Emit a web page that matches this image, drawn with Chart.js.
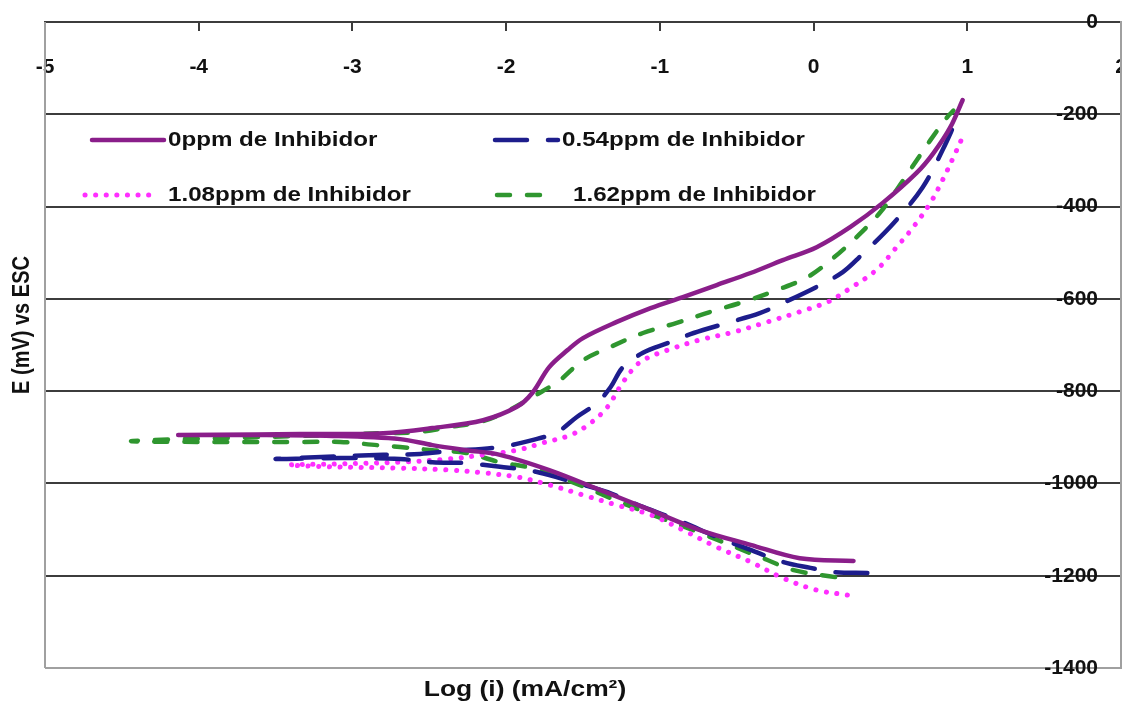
<!DOCTYPE html>
<html>
<head>
<meta charset="utf-8">
<script src="https://cdn.jsdelivr.net/npm/chart.js@4.4.1/dist/chart.umd.min.js"></script>
<style>
  html, body { margin: 0; padding: 0; background: #ffffff; }
  #wrap { width: 1122px; height: 702px; }
</style>
</head>
<body>
<div id="wrap"><canvas id="c" width="1122" height="702"></canvas></div>
<script>
// Tafel polarisation curves: log current density vs potential (mV vs ESC)
const xTickValues = [-5, -4, -3, -2, -1, 0, 1, 2];
const yTickValues = [0, -200, -400, -600, -800, -1000, -1200, -1400];

const xTitle = 'Log (i) (mA/cm\u00B2)';
const yTitle = 'E (mV) vs ESC';

const seriesNames = [
  '0ppm de Inhibidor',
  '0.54ppm de Inhibidor',
  '1.08ppm de Inhibidor',
  '1.62ppm de Inhibidor'
];

// 0 ppm: cathodic branch (right to left), then anodic branch (left to right)
const logI_0ppm = [0.26, -0.09, -0.41, -0.74, -1.06, -1.39, -1.72, -2.04, -2.26, -2.48,
  -2.69, -3.13, -3.67, -4.13, -3.34, -2.80, -2.48, -2.15, -1.93, -1.83,
  -1.72, -1.60, -1.50, -1.28, -1.06, -0.85, -0.63, -0.41, -0.20, 0.02,
  0.24, 0.45, 0.67, 0.78, 0.89, 0.97];
const E_0ppm = [-1168, -1162, -1133, -1101, -1058, -1014, -971, -938, -928, -917,
  -904, -897, -895, -895, -893, -891, -880, -863, -834, -804,
  -748, -711, -685, -650, -620, -596, -570, -544, -516, -488,
  -444, -392, -327, -284, -228, -169];

// 0.54 ppm
const logI_054ppm = [0.35, 0.13, -0.02, -0.20, -0.41, -0.63, -0.85, -1.11, -1.34, -1.50,
  -1.72, -1.86, -2.04, -2.26, -2.48, -2.69, -3.08, -3.50,
  -3.08, -2.80, -2.56, -2.37, -2.04, -1.83, -1.67, -1.54, -1.41, -1.32,
  -1.24, -1.11, -0.95, -0.78, -0.56, -0.35, -0.20, 0.02, 0.19, 0.30,
  0.52, 0.71, 0.84, 0.93, 0.95];
const E_054ppm = [-1194, -1192, -1183, -1170, -1144, -1116, -1084, -1051, -1019, -1003,
  -982, -971, -964, -956, -954, -947, -945, -947,
  -941, -938, -936, -930, -921, -906, -889, -856, -826, -791,
  -748, -717, -696, -674, -652, -631, -609, -574, -542, -509,
  -436, -358, -277, -212, -199];

// 1.08 ppm
const logI_108ppm = [0.22, 0.02, -0.20, -0.41, -0.63, -0.85, -1.06, -1.28, -1.50, -1.72,
  -1.93, -2.15, -2.37, -2.69, -3.13, -3.41,
  -3.13, -2.69, -2.37, -2.15, -1.93, -1.76, -1.58, -1.45, -1.34, -1.26,
  -1.18, -1.11, -0.95, -0.74, -0.52, -0.30, -0.09, 0.09, 0.22, 0.41,
  0.54, 0.65, 0.76, 0.84, 0.91, 0.97];
const E_108ppm = [-1242, -1231, -1205, -1170, -1138, -1101, -1068, -1047, -1025, -1003,
  -986, -977, -971, -967, -964, -960,
  -958, -954, -947, -938, -928, -912, -895, -869, -834, -791,
  -754, -733, -711, -689, -672, -650, -628, -607, -581, -537,
  -488, -444, -392, -342, -293, -249];

// 1.62 ppm
const logI_162ppm = [0.14, -0.13, -0.30, -0.74, -1.18, -1.60, -1.83, -2.04, -2.26, -2.48,
  -2.69, -2.84, -3.08, -3.34, -3.99, -4.43,
  -3.13, -2.80, -2.58, -2.37, -2.15, -1.99, -1.83, -1.65, -1.50, -1.32,
  -1.11, -0.89, -0.67, -0.46, -0.24, -0.04, 0.13, 0.28, 0.43, 0.54,
  0.65, 0.76, 0.87, 0.91];
const E_162ppm = [-1203, -1188, -1166, -1107, -1051, -993, -967, -954, -934, -928,
  -921, -917, -910, -910, -910, -908,
  -895, -891, -889, -878, -865, -843, -813, -776, -733, -704,
  -674, -652, -628, -607, -581, -553, -511, -466, -414, -364,
  -310, -256, -206, -192];

const FONT = '"Liberation Sans", Arial, sans-serif';

function points(xs, ys) {
  return xs.map((x, i) => ({ x: x, y: ys[i] }));
}

const datasets = [
  { label: seriesNames[0], data: points(logI_0ppm, E_0ppm),
    borderColor: '#8a1e8a', borderWidth: 4.5, borderDash: [], borderCapStyle: 'round' },
  { label: seriesNames[1], data: points(logI_054ppm, E_054ppm),
    borderColor: '#1d1d8c', borderWidth: 4.5, borderDash: [32, 21], borderCapStyle: 'round' },
  { label: seriesNames[2], data: points(logI_108ppm, E_108ppm),
    borderColor: '#ff2eff', borderWidth: 5, borderDash: [0.1, 10.5], borderCapStyle: 'round' },
  { label: seriesNames[3], data: points(logI_162ppm, E_162ppm),
    borderColor: '#2f962f', borderWidth: 4.5, borderDash: [13, 17], borderCapStyle: 'round' }
].map(d => Object.assign(d, {
  showLine: true, fill: false, pointRadius: 0, pointHoverRadius: 0,
  tension: 0.35, borderJoinStyle: 'round'
}));

// axes take no room of their own: their labels sit inside the plot area
function collapse(isHorizontal) {
  return s => {
    if (isHorizontal) { s.height = 0; } else { s.width = 0; }
    s.paddingLeft = 0; s.paddingRight = 0; s.paddingTop = 0; s.paddingBottom = 0;
  };
}

// grey frame line on the left side of the plot area
const framePlugin = {
  id: 'frame',
  beforeDatasetsDraw(chart) {
    const { ctx, chartArea } = chart;
    ctx.save();
    ctx.strokeStyle = '#a0a0a0';
    ctx.lineWidth = 2;
    ctx.beginPath();
    ctx.moveTo(chartArea.left, chartArea.top);
    ctx.lineTo(chartArea.left, chartArea.bottom);
    ctx.stroke();
    ctx.restore();
  }
};

// axis titles and the in-plot legend
const overlayPlugin = {
  id: 'overlay',
  afterDraw(chart) {
    const ctx = chart.ctx;
    ctx.save();
    ctx.fillStyle = '#111111';
    ctx.textBaseline = 'middle';

    // x title (bottom)
    ctx.save();
    ctx.translate(525, 690);
    ctx.scale(1.2, 1);
    ctx.font = 'bold 22px ' + FONT;
    ctx.textAlign = 'center';
    ctx.fillText(xTitle, 0, 0);
    ctx.restore();

    // y title (left, rotated)
    ctx.save();
    ctx.translate(22, 325);
    ctx.rotate(-Math.PI / 2);
    ctx.scale(1, 1.2);
    ctx.font = 'bold 20px ' + FONT;
    ctx.textAlign = 'center';
    ctx.fillText(yTitle, 0, 0);
    ctx.restore();

    // legend entries
    const slots = [
      { x0: 92, x1: 164, y: 140, tx: 168 },
      { x0: 495, x1: 558, y: 140, tx: 562 },
      { x0: 85, x1: 156, y: 195, tx: 168 },
      { x0: 497, x1: 553, y: 195, tx: 573 }
    ];
    chart.data.datasets.forEach((ds, i) => {
      const s = slots[i];
      ctx.save();
      ctx.strokeStyle = ds.borderColor;
      ctx.lineWidth = ds.borderWidth;
      ctx.lineCap = ds.borderCapStyle;
      ctx.setLineDash(ds.borderDash || []);
      ctx.beginPath();
      ctx.moveTo(s.x0, s.y);
      ctx.lineTo(s.x1, s.y);
      ctx.stroke();
      ctx.restore();

      ctx.save();
      ctx.translate(s.tx, s.y);
      ctx.scale(1.15, 1);
      ctx.font = 'bold 21px ' + FONT;
      ctx.textAlign = 'left';
      ctx.fillStyle = '#111111';
      ctx.fillText(ds.label, 0, 0);
      ctx.restore();
    });
    ctx.restore();
  }
};

const tickFont = { family: FONT, size: 21, weight: 'bold' };

new Chart(document.getElementById('c'), {
  type: 'scatter',
  data: { datasets: datasets },
  options: {
    responsive: false,
    animation: false,
    devicePixelRatio: 1,
    layout: { padding: { left: 45, top: 22, right: 1, bottom: 34 } },
    plugins: {
      legend: { display: false },
      tooltip: { enabled: false }
    },
    scales: {
      x: {
        type: 'linear',
        position: 'top',
        min: -5,
        max: 2,
        afterBuildTicks: s => { s.ticks = xTickValues.map(v => ({ value: v })); },
        afterFit: collapse(true),
        border: { display: true, color: '#3c3c3c', width: 2 },
        grid: { drawOnChartArea: false, drawTicks: true, tickLength: -9, color: '#3c3c3c', lineWidth: 2 },
        ticks: { mirror: true, padding: 33, color: '#111111', font: tickFont,
                 maxRotation: 0, autoSkip: false, callback: v => String(v) }
      },
      y: {
        type: 'linear',
        position: 'right',
        min: -1400,
        max: 0,
        afterBuildTicks: s => { s.ticks = yTickValues.map(v => ({ value: v })); },
        afterFit: collapse(false),
        border: { display: true, color: '#a0a0a0', width: 2 },
        grid: {
          drawTicks: false,
          lineWidth: 2,
          color: c => (c.tick && c.tick.value === -1400) ? '#a0a0a0' : '#3c3c3c'
        },
        ticks: { mirror: true, padding: -23, color: '#111111', font: tickFont,
                 autoSkip: false, callback: v => String(v) }
      }
    }
  },
  plugins: [framePlugin, overlayPlugin]
});
</script>
</body>
</html>
